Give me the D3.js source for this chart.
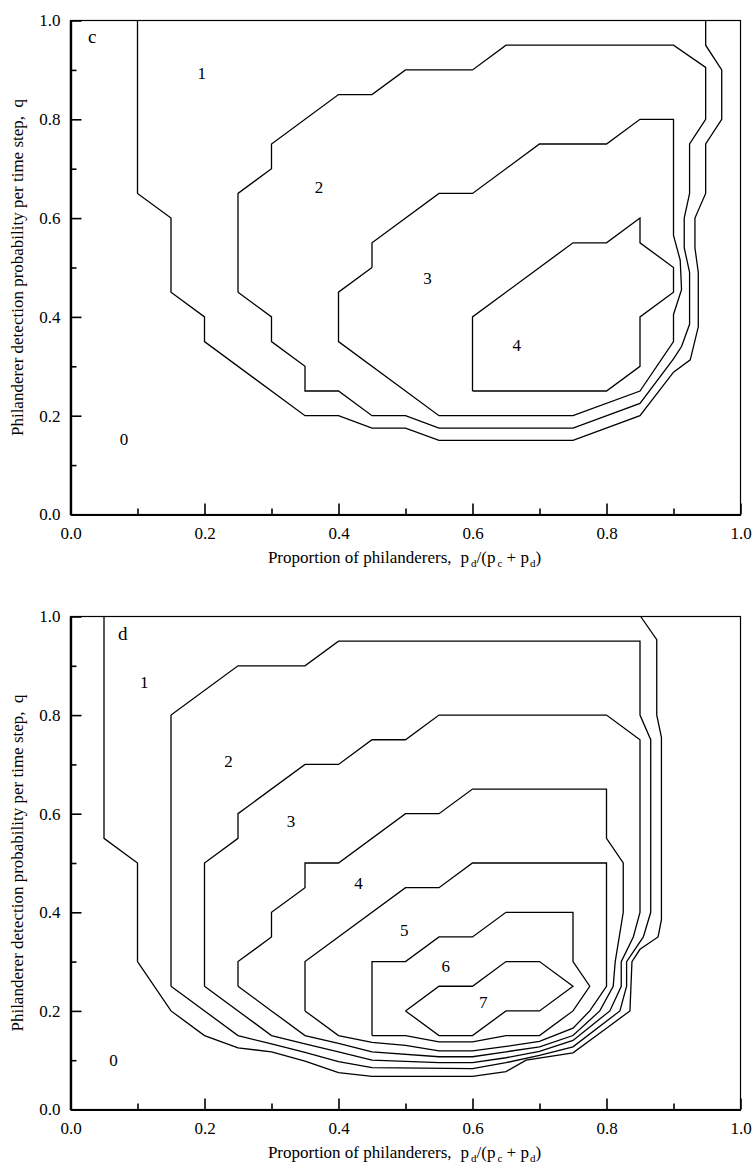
<!DOCTYPE html>
<html>
<head>
<meta charset="utf-8">
<script src="https://cdn.jsdelivr.net/npm/d3@7"></script>
<style>
  body { margin: 0; background: #fff; }
  svg text { font-family: "Liberation Serif", "Times New Roman", serif; fill: #000; }
</style>
</head>
<body>
<svg id="chart" width="755" height="1175"></svg>
<script>
// axis ticks
var majorTicks = [0, 0.2, 0.4, 0.6, 0.8, 1.0];
var minorTicks = [0.1, 0.3, 0.5, 0.7, 0.9];

// panel c contours, [p_d/(p_c+p_d), q]
var cLevel1 = [[0.1,1.0],[0.1,0.65],[0.15,0.6],[0.15,0.45],[0.2,0.4],[0.2,0.35],[0.35,0.2],[0.4,0.2],[0.45,0.175],[0.5,0.175],[0.55,0.15],[0.75,0.15],[0.85,0.2],[0.9,0.288],[0.925,0.313],[0.937,0.38],[0.937,0.49],[0.932,0.54],[0.932,0.6],[0.948,0.65],[0.948,0.75],[0.972,0.8],[0.972,0.9],[0.948,0.95],[0.948,1.0]];
var cLevel2 = [[0.25,0.45],[0.25,0.65],[0.3,0.7],[0.3,0.75],[0.4,0.85],[0.45,0.85],[0.5,0.9],[0.6,0.9],[0.65,0.95],[0.9,0.95],[0.948,0.905],[0.948,0.8],[0.924,0.75],[0.924,0.65],[0.916,0.6],[0.916,0.54],[0.924,0.49],[0.924,0.385],[0.912,0.34],[0.9,0.315],[0.85,0.225],[0.75,0.175],[0.55,0.175],[0.5,0.2],[0.45,0.2],[0.4,0.25],[0.35,0.25],[0.35,0.3],[0.3,0.35],[0.3,0.4],[0.25,0.45]];
var cLevel3 = [[0.45,0.5],[0.45,0.55],[0.55,0.65],[0.6,0.65],[0.7,0.75],[0.8,0.75],[0.85,0.8],[0.9,0.8],[0.9,0.565],[0.91,0.515],[0.912,0.455],[0.9,0.405],[0.9,0.35],[0.85,0.25],[0.75,0.2],[0.55,0.2],[0.4,0.35],[0.4,0.45],[0.45,0.5]];
var cLevel4 = [[0.6,0.25],[0.6,0.4],[0.75,0.55],[0.8,0.55],[0.85,0.6],[0.85,0.55],[0.9,0.5],[0.9,0.45],[0.85,0.4],[0.85,0.3],[0.8,0.25],[0.6,0.25]];
var cLabels = [["0",0.08,0.152],["1",0.196,0.894],["2",0.371,0.663],["3",0.533,0.478],["4",0.666,0.343]];

// panel d contours
var dLevel1 = [[0.05,1.0],[0.05,0.55],[0.1,0.5],[0.1,0.3],[0.15,0.2],[0.2,0.15],[0.25,0.125],[0.3,0.117],[0.35,0.098],[0.4,0.075],[0.45,0.067],[0.6,0.067],[0.65,0.077],[0.68,0.1],[0.75,0.115],[0.8,0.165],[0.835,0.2],[0.838,0.3],[0.85,0.325],[0.877,0.35],[0.882,0.385],[0.882,0.755],[0.875,0.8],[0.875,0.953],[0.851,1.0]];
var dLevel2 = [[0.15,0.25],[0.15,0.8],[0.25,0.9],[0.35,0.9],[0.4,0.95],[0.85,0.95],[0.85,0.8],[0.866,0.75],[0.866,0.4],[0.855,0.35],[0.83,0.3],[0.83,0.25],[0.82,0.2],[0.75,0.127],[0.7,0.11],[0.65,0.095],[0.6,0.083],[0.45,0.085],[0.4,0.097],[0.35,0.116],[0.3,0.133],[0.25,0.15],[0.15,0.25]];
var dLevel3 = [[0.2,0.25],[0.2,0.5],[0.25,0.55],[0.25,0.6],[0.35,0.7],[0.4,0.7],[0.45,0.75],[0.5,0.75],[0.55,0.8],[0.8,0.8],[0.85,0.75],[0.85,0.4],[0.84,0.35],[0.822,0.3],[0.822,0.25],[0.805,0.2],[0.75,0.14],[0.7,0.118],[0.65,0.105],[0.6,0.095],[0.55,0.095],[0.45,0.1],[0.4,0.117],[0.35,0.133],[0.3,0.15],[0.2,0.25]];
var dLevel4 = [[0.25,0.25],[0.25,0.3],[0.3,0.35],[0.3,0.4],[0.35,0.45],[0.35,0.5],[0.4,0.5],[0.5,0.6],[0.55,0.6],[0.6,0.65],[0.8,0.65],[0.8,0.55],[0.825,0.5],[0.825,0.4],[0.813,0.3],[0.81,0.25],[0.79,0.2],[0.75,0.15],[0.7,0.127],[0.65,0.117],[0.6,0.107],[0.55,0.107],[0.45,0.117],[0.4,0.134],[0.35,0.15],[0.3,0.2],[0.25,0.25]];
var dLevel5 = [[0.35,0.2],[0.35,0.3],[0.5,0.45],[0.55,0.45],[0.6,0.5],[0.8,0.5],[0.8,0.25],[0.775,0.2],[0.75,0.165],[0.7,0.138],[0.65,0.128],[0.6,0.119],[0.55,0.119],[0.5,0.13],[0.45,0.136],[0.4,0.15],[0.35,0.2]];
var dLevel6 = [[0.45,0.15],[0.45,0.3],[0.5,0.3],[0.55,0.35],[0.6,0.35],[0.65,0.4],[0.75,0.4],[0.75,0.3],[0.775,0.25],[0.75,0.2],[0.7,0.15],[0.65,0.15],[0.6,0.137],[0.55,0.137],[0.5,0.15],[0.45,0.15]];
var dLevel7 = [[0.5,0.2],[0.55,0.25],[0.6,0.25],[0.65,0.3],[0.7,0.3],[0.75,0.25],[0.7,0.2],[0.65,0.2],[0.6,0.15],[0.55,0.15],[0.5,0.2]];
var dLabels = [["0",0.064,0.10],["1",0.11,0.868],["2",0.236,0.707],["3",0.329,0.586],["4",0.43,0.46],["5",0.498,0.365],["6",0.56,0.29],["7",0.616,0.217]];

var svg = d3.select("#chart");

var x = d3.scaleLinear().domain([0, 1]).range([70.5, 740.5]);

var panels = [
    { letter: "c", top: 20.5, bottom: 514.5, letterX: 88, letterY: 43,
      levels: [cLevel1, cLevel2, cLevel3, cLevel4], labels: cLabels },
    { letter: "d", top: 616.5, bottom: 1109.5, letterX: 118, letterY: 640,
      levels: [dLevel1, dLevel2, dLevel3, dLevel4, dLevel5, dLevel6, dLevel7], labels: dLabels }
];

panels.forEach(function(p) {
    var y = d3.scaleLinear().domain([0, 1]).range([p.bottom, p.top]);
    var g = svg.append("g");

    // thin frame (top and right)
    g.append("rect")
        .attr("x", x(0)).attr("y", y(1))
        .attr("width", x(1) - x(0)).attr("height", y(0) - y(1))
        .attr("fill", "none").attr("stroke", "#000").attr("stroke-width", 1.2);

    // contours
    var line = d3.line()
        .x(function(d) { return x(d[0]); })
        .y(function(d) { return y(d[1]); });

    g.selectAll("path.contour")
        .data(p.levels)
        .enter().append("path")
        .attr("class", "contour")
        .attr("d", line)
        .attr("fill", "none")
        .attr("stroke", "#000")
        .attr("stroke-width", 1.3)
        .attr("stroke-linejoin", "miter");

    // contour numbers
    g.selectAll("text.lev")
        .data(p.labels)
        .enter().append("text")
        .attr("class", "lev")
        .attr("x", function(d) { return x(d[1]); })
        .attr("y", function(d) { return y(d[2]); })
        .attr("dy", "0.35em")
        .attr("text-anchor", "middle")
        .attr("font-size", 17)
        .text(function(d) { return d[0]; });

    g.append("text")
        .attr("x", p.letterX).attr("y", p.letterY)
        .attr("font-size", 19)
        .text(p.letter);

    // x axis
    var xMajor = g.append("g").attr("transform", "translate(0," + y(0) + ")")
        .call(d3.axisBottom(x).tickValues(majorTicks).tickSize(-11).tickSizeOuter(0)
            .tickPadding(12).tickFormat(d3.format(".1f")));
    var xMinor = g.append("g").attr("transform", "translate(0," + y(0) + ")")
        .call(d3.axisBottom(x).tickValues(minorTicks).tickSize(-6).tickSizeOuter(0).tickFormat(""));

    // y axis
    var yMajor = g.append("g").attr("transform", "translate(" + x(0) + ",0)")
        .call(d3.axisLeft(y).tickValues(majorTicks).tickSize(-11).tickSizeOuter(0)
            .tickPadding(10).tickFormat(d3.format(".1f")));
    var yMinor = g.append("g").attr("transform", "translate(" + x(0) + ",0)")
        .call(d3.axisLeft(y).tickValues(minorTicks).tickSize(-6).tickSizeOuter(0).tickFormat(""));

    [xMajor, xMinor, yMajor, yMinor].forEach(function(a) {
        a.selectAll(".tick line").attr("stroke", "#000").attr("stroke-width", 1.6);
        a.select(".domain").attr("stroke", "#000").attr("stroke-width", 2.2);
        a.selectAll("text")
            .attr("font-family", null)
            .attr("font-size", 17)
            .attr("fill", "#000");
        a.attr("font-family", null).attr("font-size", null);
    });

    // x axis title with subscripts
    var xt = g.append("text")
        .attr("x", (x(0) + x(1)) / 2 - 1)
        .attr("y", y(0) + 48)
        .attr("text-anchor", "middle")
        .attr("font-size", 17)
        .style("white-space", "pre");
    xt.append("tspan").text("Proportion of philanderers,");
    xt.append("tspan").attr("dx", 9).text("p");
    xt.append("tspan").attr("dx", 2).attr("dy", 4).attr("font-size", 11).text("d");
    xt.append("tspan").attr("dy", -4).text("/(p");
    xt.append("tspan").attr("dx", 2).attr("dy", 4).attr("font-size", 11).text("c");
    xt.append("tspan").attr("dy", -4).text(" + p");
    xt.append("tspan").attr("dx", 1).attr("dy", 4).attr("font-size", 11).text("d");
    xt.append("tspan").attr("dy", -4).text(")");

    // y axis title
    g.append("text")
        .attr("transform", "translate(23," + ((y(0) + y(1)) / 2) + ") rotate(-90)")
        .attr("text-anchor", "middle")
        .attr("font-size", 17)
        .style("white-space", "pre")
        .text("Philanderer detection probability per time step,  q");
});
</script>
</body>
</html>
